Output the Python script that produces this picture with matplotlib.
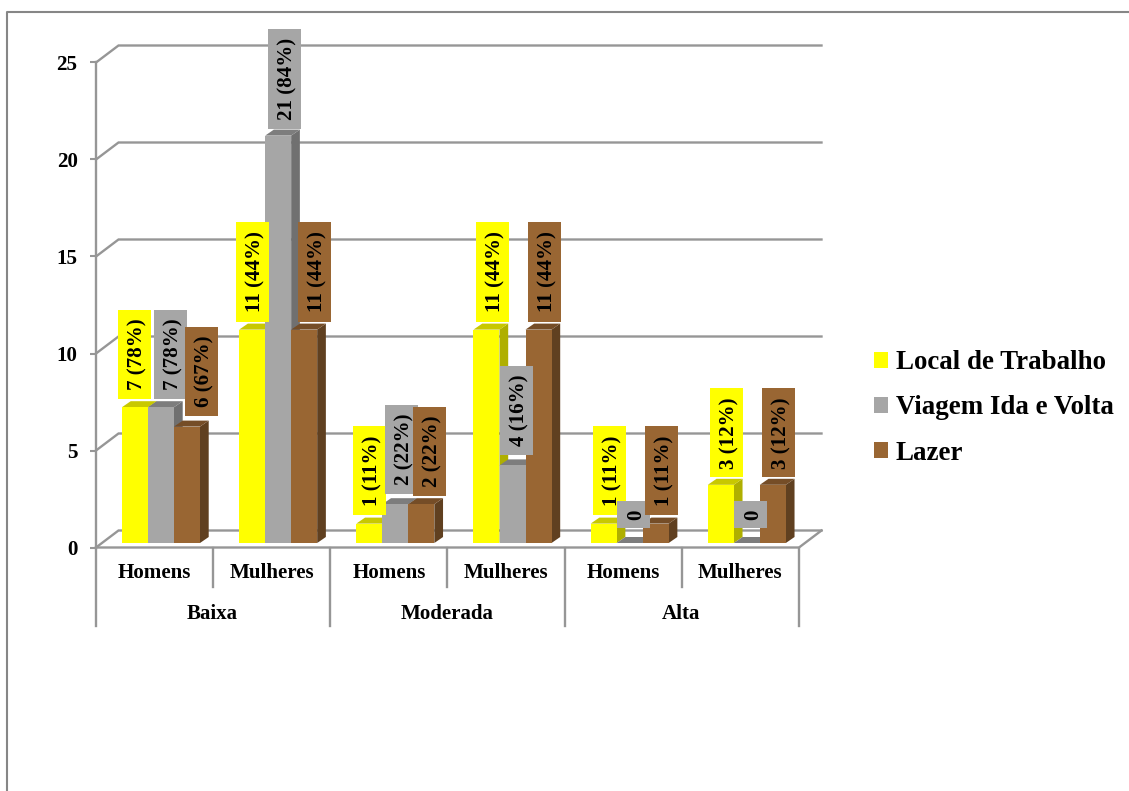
import matplotlib
matplotlib.use('Agg')
import matplotlib.pyplot as plt
from matplotlib.lines import Line2D
from matplotlib.patches import Patch, Polygon, Rectangle

plt.rcParams['font.family'] = ['Liberation Serif', 'DejaVu Serif']
plt.rcParams['font.weight'] = 'bold'

# chart values
groups = ['Baixa', 'Moderada', 'Alta']
subgroups = ['Homens', 'Mulheres', 'Homens', 'Mulheres', 'Homens', 'Mulheres']
series_names = ['Local de Trabalho', 'Viagem Ida e Volta', 'Lazer']
y_ticks = [0, 5, 10, 15, 20, 25]

local_values = [7, 11, 1, 11, 1, 3]
viagem_values = [7, 21, 2, 4, 0, 0]
lazer_values = [6, 11, 2, 11, 1, 3]

local_pct = [78, 44, 11, 44, 11, 12]
viagem_pct = [78, 84, 22, 16, 0, 0]
lazer_pct = [67, 44, 22, 44, 11, 12]

# label nudges in pixels from the top centre of each bar
local_nudge = [(-0.5, 53), (0, 58), (0, 53), (6, 58), (6, 53), (5.5, 52)]
viagem_nudge = [(9.5, 53), (6, 57), (6, 55), (4, 55), (4, 28.5), (3.5, 28.5)]
lazer_nudge = [(14.5, 55), (10, 58), (8, 53), (6, 58), (6, 53), (5.5, 52)]

# colours: front, side, top
series_colors = [('#FFFF00', '#AFAF00', '#C8C800'),
                 ('#A6A6A6', '#707070', '#7D7D7D'),
                 ('#996633', '#604020', '#754D27')]
grid_color = '#969696'

W, H = 1129, 791
LEFT, RIGHT, FLOOR, TOP = 96, 799, 547.5, 62.5

fig = plt.figure(figsize=(W / 100, H / 100), dpi=100)
ax = fig.add_axes([LEFT / W, 1 - FLOOR / H, (RIGHT - LEFT) / W, (FLOOR - TOP) / H])
ax.set_xlim(0, 6)
ax.set_ylim(0, 25)

# size of one pixel in data units
px_x = 6 / (RIGHT - LEFT)
px_y = 25 / (FLOOR - TOP)

# outer chart frame
fig.add_artist(Line2D([7 / W, 7 / W, 1], [0, 1 - 12 / H, 1 - 12 / H], color='#868686', lw=1.5))

# back wall, side wall and floor
wall_dx = 22.5 * px_x
wall_dy = 17 * px_y
for tick in y_ticks:
    ax.plot([0, wall_dx, 6 + wall_dx], [tick, tick + wall_dy, tick + wall_dy],
            color=grid_color, lw=1.7, clip_on=False, zorder=1, solid_joinstyle='miter')
ax.plot([0, 6, 6 + wall_dx], [0, 0, wall_dy], color=grid_color, lw=1.7, clip_on=False, zorder=1)

# bars
bar_w = 26 * px_x
bar_start = 26 * px_x
bar_base = 4.5 * px_y
depth_x = 8.7 * px_x
depth_y = 6 * px_y


def draw_bar(x, value, colors, zorder):
    front, side, top = colors
    y0 = bar_base
    y1 = bar_base + value
    x1 = x + bar_w
    ax.add_patch(Polygon([(x1, y0), (x1 + depth_x, y0 + depth_y), (x1 + depth_x, y1 + depth_y), (x1, y1)],
                         closed=True, facecolor=side, edgecolor='none', zorder=zorder, clip_on=False))
    ax.add_patch(Polygon([(x, y1), (x + depth_x, y1 + depth_y), (x1 + depth_x, y1 + depth_y), (x1, y1)],
                         closed=True, facecolor=top, edgecolor='none', zorder=zorder, clip_on=False))
    if value > 0:
        ax.bar(x, value, width=bar_w, bottom=y0, align='edge', color=front, linewidth=0, zorder=zorder)


all_values = [local_values, viagem_values, lazer_values]
all_pct = [local_pct, viagem_pct, lazer_pct]
all_nudge = [local_nudge, viagem_nudge, lazer_nudge]

for i in range(6):
    for s in range(3):
        draw_bar(i + bar_start + s * bar_w, all_values[s][i], series_colors[s], 3 + 0.01 * i + 0.001 * s)

# data labels, one series after the other so the later boxes sit on top
for s in range(3):
    for i in range(6):
        value = all_values[s][i]
        text = '0' if value == 0 else f'{value} ({all_pct[s][i]}%)'
        box_h = 27 if value == 0 else (100 if value >= 10 else 89)
        cx = i + bar_start + (s + 0.5) * bar_w + all_nudge[s][i][0] * px_x
        cy = bar_base + value + all_nudge[s][i][1] * px_y
        z = 5 + s + 0.01 * i
        ax.add_patch(Rectangle((cx - 16.5 * px_x, cy - box_h / 2 * px_y), 33 * px_x, box_h * px_y,
                               facecolor=series_colors[s][0], edgecolor='none', zorder=z, clip_on=False))
        ax.text(cx + 3 * px_x, cy, text, rotation=90, ha='center', va='center', fontsize=15.1, fontweight='bold',
                color='black', zorder=z + 0.001, clip_on=False)

# axes and ticks
for name in ['top', 'right', 'bottom']:
    ax.spines[name].set_visible(False)
ax.spines['left'].set_color(grid_color)
ax.spines['left'].set_linewidth(1.7)
ax.set_xticks([])
ax.set_yticks(y_ticks)
ax.set_yticklabels([str(t) for t in y_ticks], fontsize=15.1, fontweight='bold')
ax.tick_params(axis='y', length=4.3, width=1.5, color=grid_color, pad=9)
ax.patch.set_alpha(0)

# two level category axis below the floor
for i in range(7):
    low = 78 if i % 2 == 0 else 39
    ax.plot([i, i], [0, -low * px_y], color=grid_color, lw=1.7, clip_on=False, zorder=1)
for i, name in enumerate(subgroups):
    ax.text(i + 0.5, -26 * px_y, name, ha='center', va='center', fontsize=15.1, fontweight='bold')
for i, name in enumerate(groups):
    ax.text(2 * i + 1 - 0.8 * px_x, -66.5 * px_y, name, ha='center', va='center', fontsize=15.1, fontweight='bold')

# legend
handles = [Patch(facecolor=c[0], edgecolor='none', label=n) for c, n in zip(series_colors, series_names)]
fig.legend(handles=handles, loc='center left', bbox_to_anchor=(866 / W, 1 - 408 / H), frameon=False,
           prop={'size': 19.4, 'weight': 'bold'}, handlelength=0.53, handleheight=0.53,
           handletextpad=0.27, labelspacing=0.75, borderpad=0.3, borderaxespad=0)

fig.savefig('out.png', dpi=100)
plt.close(fig)
